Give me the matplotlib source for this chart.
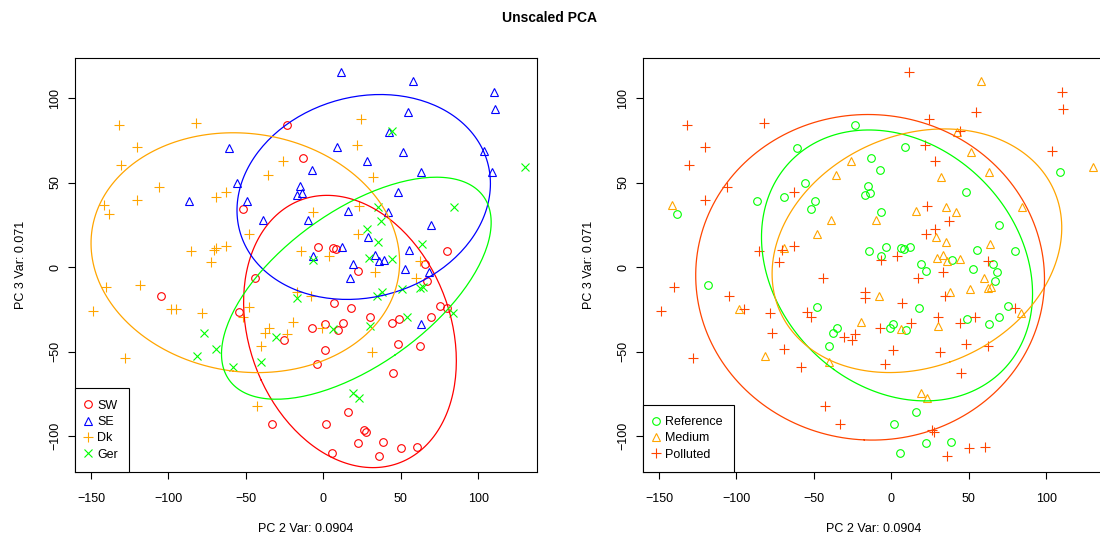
import numpy as np
import matplotlib
matplotlib.use("Agg")
import matplotlib.pyplot as plt

plt.rcParams['font.family'] = ['Liberation Sans', 'DejaVu Sans']

# PC2 / PC3 scores per region, with the pollution class of each sample
# (R = Reference, M = Medium, P = Polluted)
sw_x = [-23.6, -12.9, -52, -3.2, 6.4, 8.2, 22.5, 80.1, 65.5, -44, 6.6, 17.8, 30.1, -54.6,
        -7.3, 1.1, 9.7, 12.9, -25.1, 1.1, -4.3, 15.7, -33.3, 1.7, 26.4, 27.5, 22.6, 38.2,
        5.3, 35.6, 66.6, 75.6, 80.1, 44.5, 49, 69.4, 47.9, 62.7, 45.1, 50.1, 60.6, -104.6]
sw_y = [84.2, 64.5, 34.5, 12, 11.2, 10.5, -2.5, 9.3, 2, -6.3, -21.5, -24.5, -29.4, -26.8,
        -35.9, -33.9, -37.3, -33.3, -43.2, -49.1, -57.2, -85.6, -92.9, -92.9, -96.4, -97.8, -104, -103.4,
        -109.9, -111.8, -8.1, -22.9, -24.4, -33.3, -30.8, -29.8, -45.7, -46.7, -62.9, -106.9, -106.3, -17]
sw_pol = "RRRRRRRRRPPRPPPRRPPPPRPRPPRRRPRRPPRRPPPPPP"

se_x = [11.4, 8.6, 27.9, -7.5, -55.6, -15, -17, -13.7, -49.2, -61, -39.1, -10.1, 16.1, 28.5,
        12, -6.9, 18.9, 33.3, 36.1, 39.2, 58, 110.2, 111, 54.8, 42.5, 51.5, 103.5, 62.9,
        108.9, 48.3, 41.9, 69.8, 55.4, 52.8, 68.1, 17.2, 62.9, -86.8]
se_y = [115.4, 71, 62.5, 57.6, 49.7, 48.1, 42.8, 43.8, 38.9, 70.7, 27.6, 27.6, 33, 17.8,
        11.8, 6.7, 1.5, 6.9, 3.7, 4, 109.9, 103.6, 93.5, 91.7, 79.9, 68, 68.5, 56.2,
        56.2, 44.4, 32.5, 25, 10.2, -1.4, -2.8, -6.3, -33.9, 38.9]
se_pol = "PRPRRRRRRRMMMMRRRMMRMPPPMMPMRRMRRRRPRR"

dk_x = [-132, -82.5, -120.5, -130.8, -106, -120.5, -69.6, -63, -141.6, -138.3, -85.7, -70.7,
        -69.6, -63, -72.8, 24.3, 21.7, 31.8, -25.8, -35.9, -6.9, 22.7, 22.1, -48.3, -14.4, 3.9,
        62.3, -140, -118.4, -148.6, -98.6, -95.4, -78.6, -128, 33.3, -17.2, -7.9, -48.3, -52,
        -19.8, -1.1, -34.8, -37.4, -23.6, -40.1, 31.4, -42.7, 59.5]
dk_y = [84.2, 85.2, 70.8, 60.2, 47.3, 39.8, 41.2, 44.4, 36.9, 31.5, 9.6, 10.2,
        11.2, 12.2, 3, 87.8, 72, 53, 62.5, 54.6, 32.5, 35.9, 19.7, 19.7, 9.3, 6.3,
        3.4, -12, -10.7, -25.9, -25, -24.9, -27.4, -54, -3.1, -14.6, -17.2, -23.5, -29.8,
        -32.4, -35.9, -36.3, -39.2, -39.6, -46.6, -50.1, -82.1, -6.7]
dk_pol = "PPPPPPRPMRPPMPPPPMMMRPPMRPPPRPMPPPPPMRPMRRRPRPPM"

ger_x = [35, 37.2, 27.9, 35, -6.9, 29.6, 44, 130.4, 84.4, 63.8, 44, -77.1, -69.1, -81.8,
         -17, 37.6, 34.6, 50.9, 62.7, 64.4, 83.8, 54.3, 6, 30.1, -30.5, -40.1, -58.4, 19.3, 23.2]
ger_y = [35.5, 27, 22.7, 14.6, 4.3, 5.3, 80.3, 59.2, 35.5, 13.6, 4.7, -39.2, -48.7, -52.7,
         -18.5, -15, -17.2, -13, -12.6, -12, -27.4, -29.8, -36.9, -34.9, -41.6, -56, -59, -74.4, -77.3]
ger_pol = "MPPMPMPMMMMPPMPMPMMMMPMMPMPMM"

regions = ["SW", "SE", "Dk", "Ger"]
region_cols = ["red", "blue", "orange", "#00FF00"]
region_marks = ["o", "^", "+", "x"]
levels = ["Reference", "Medium", "Polluted"]
level_cols = ["#00FF00", "orange", "orangered"]
level_marks = ["o", "^", "+"]

xs = [sw_x, se_x, dk_x, ger_x]
ys = [sw_y, se_y, dk_y, ger_y]
pols = [sw_pol, se_pol, dk_pol, ger_pol]

all_x = np.concatenate([np.array(v, float) for v in xs])
all_y = np.concatenate([np.array(v, float) for v in ys])
all_pol = np.array(list("".join(pols)))

msize = {"o": 5.5, "^": 6.0, "+": 7.5, "x": 5.5}


def ellipse(ax, x, y, col, level=0.765):
    # normal-theory ellipse of the scores at the given coverage
    x = np.asarray(x, float)
    y = np.asarray(y, float)
    cov = np.cov(x, y)
    r = np.sqrt(-2 * np.log(1 - level))
    t = np.linspace(0, 2 * np.pi, 200)
    vals, vecs = np.linalg.eigh(cov)
    circ = np.vstack([np.cos(t), np.sin(t)]) * (r * np.sqrt(vals))[:, None]
    pts = vecs @ circ
    ax.plot(x.mean() + pts[0], y.mean() + pts[1], color=col, lw=0.9)


def style(ax):
    ax.set_xlim(-160.3, 137.9)
    ax.set_ylim(-121.3, 123.7)
    ax.set_xticks([-150, -100, -50, 0, 50, 100])
    ax.set_yticks([-100, -50, 0, 50, 100])
    ax.tick_params(length=5, width=0.8, labelsize=9)
    ax.tick_params(axis="x", pad=10)
    ax.tick_params(axis="y", pad=5)
    for lab in ax.get_yticklabels():
        lab.set_rotation(90)
        lab.set_va("center")
    for s in ax.spines.values():
        s.set_linewidth(0.8)
    ax.set_xlabel("PC 2 Var: 0.0904", fontsize=9, labelpad=13)
    ax.set_ylabel("PC 3 Var: 0.071", fontsize=9, labelpad=16)


fig = plt.figure(figsize=(11, 5.34), dpi=100)
ax1 = fig.add_axes([75 / 1100, 62 / 534, 462 / 1100, 414 / 534])
ax2 = fig.add_axes([643 / 1100, 62 / 534, 462 / 1100, 414 / 534])

# left: coloured by region
for i, name in enumerate(regions):
    m = region_marks[i]
    ax1.plot(xs[i], ys[i], ls="none", marker=m, ms=msize[m], mfc="none",
             mec=region_cols[i], mew=0.8, label=name)
for i in range(4):
    ellipse(ax1, xs[i], ys[i], region_cols[i])

# right: coloured by pollution class
for i, name in enumerate(levels):
    sel = all_pol == name[0]
    m = level_marks[i]
    ax2.plot(all_x[sel], all_y[sel], ls="none", marker=m, ms=msize[m], mfc="none",
             mec=level_cols[i], mew=0.8, label=name)
for i, name in enumerate(levels):
    sel = all_pol == name[0]
    ellipse(ax2, all_x[sel], all_y[sel], level_cols[i])

for ax in (ax1, ax2):
    style(ax)
    leg = ax.legend(loc="lower left", borderaxespad=0, fancybox=False, framealpha=1,
                    edgecolor="black", fontsize=9, handlelength=0.2, handletextpad=0.68,
                    borderpad=0.9, labelspacing=0.35)
    leg.get_frame().set_linewidth(0.8)

fig.text(0.5, 1 - 18 / 534, "Unscaled PCA", ha="center", va="center",
         fontsize=10, fontweight="bold")

fig.savefig("out.png", dpi=100)
